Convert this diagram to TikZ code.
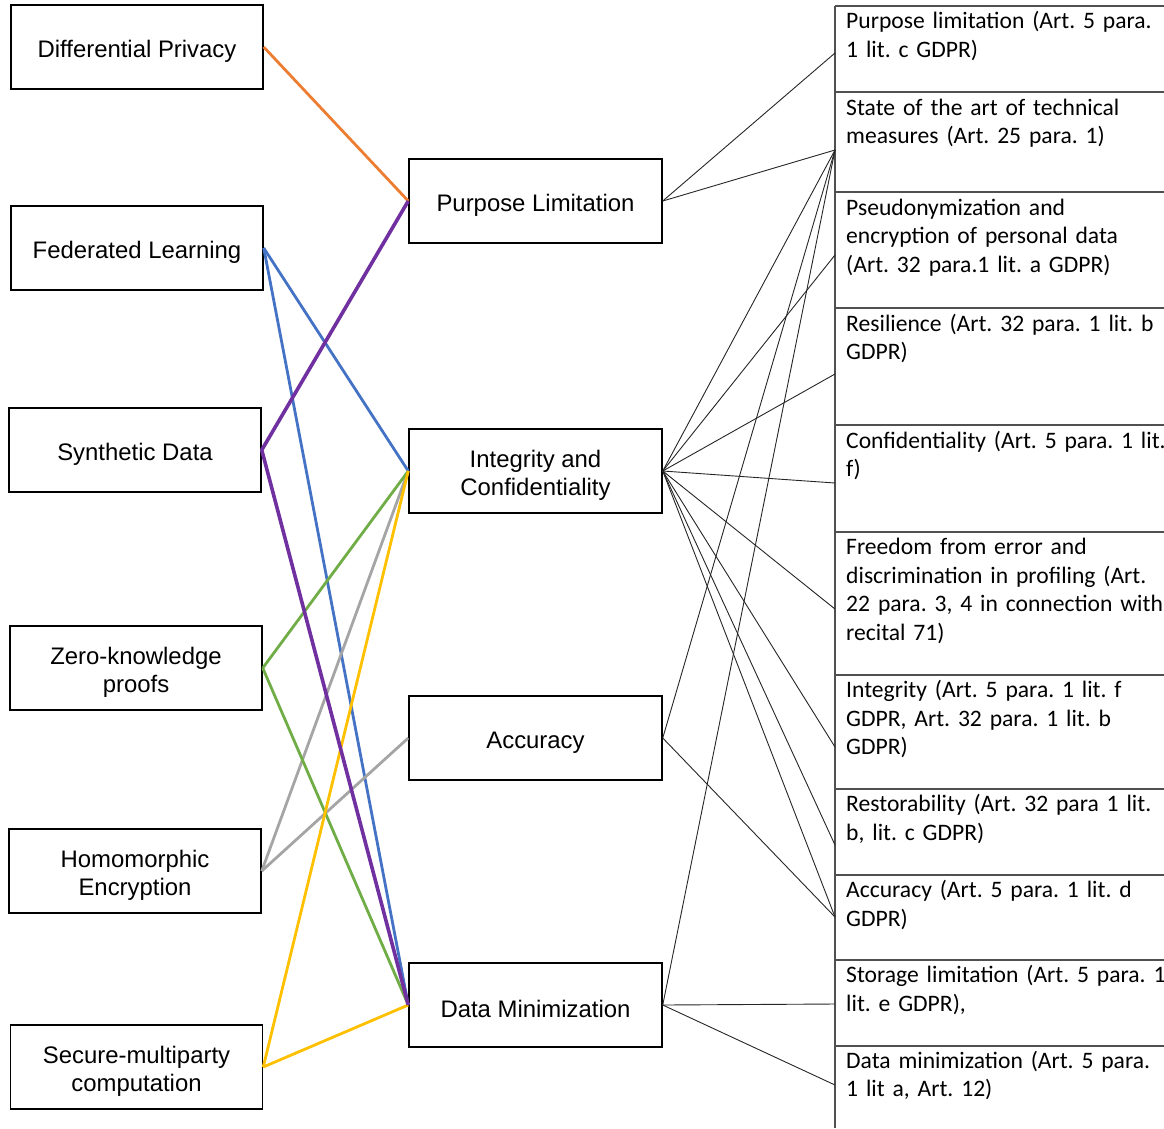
\documentclass[tikz,border=0pt]{standalone}
\usepackage{fontspec}
\setmainfont{Liberation Sans}
\newfontfamily\carlito{Carlito}
\definecolor{cOrange}{RGB}{237,125,49}
\definecolor{cPurple}{RGB}{112,48,160}
\definecolor{cBlue}{RGB}{68,114,196}
\definecolor{cGreen}{RGB}{112,173,71}
\definecolor{cGray}{RGB}{165,165,165}
\definecolor{cYellow}{RGB}{255,192,0}
\definecolor{tblGray}{RGB}{80,80,80}
\newcommand{\boxstrut}{\rule{0pt}{25.5pt}}
\newcommand{\cellfont}{\carlito\frenchspacing\fontsize{23.6}{28.7}\selectfont\fontdimen2\font=3.4pt\relax}
\begin{document}
\frenchspacing
\begin{tikzpicture}[x=1pt,y=-1pt,
  boxnode/.style={draw=black, line width=1.5pt, minimum width=252pt, minimum height=84pt,
    align=center, inner sep=0pt, font=\fontsize{23.9}{27.5}\selectfont},
  cellText/.style={anchor=base west, inner sep=0pt, text width=330pt, align=left,
    font=\cellfont},
  tableline/.style={draw=tblGray, line width=1.3pt},
  thinline/.style={draw=black!85, line width=0.9pt},
  colline/.style={line width=2.8pt}]
\useasboundingbox (0,0) rectangle (1164,1128);

% left boxes
\node[boxnode] (dp)  at (137,47)   {\boxstrut Differential Privacy};
\node[boxnode] (fl)  at (137,248)  {\boxstrut Federated Learning};
\node[boxnode] (sd)  at (135,450)  {\boxstrut Synthetic Data};
\node[boxnode] (zkp) at (136,668)  {\boxstrut Zero-knowledge\\proofs};
\node[boxnode] (he)  at (135,871)  {\boxstrut Homomorphic\\Encryption};
\node[boxnode] (smc) at (136.5,1067) {\boxstrut Secure-multiparty\\computation};

% middle boxes
\node[boxnode, minimum width=253pt] (pl)  at (535.5,201)  {\boxstrut Purpose Limitation};
\node[boxnode, minimum width=253pt] (ic)  at (535.5,471)  {\boxstrut Integrity and\\Confidentiality};
\node[boxnode, minimum width=253pt] (acc) at (535.5,738)  {\boxstrut Accuracy};
\node[boxnode, minimum width=253pt] (dm)  at (535.5,1005) {\boxstrut Data Minimization};

% right table lines
\draw[tableline] (835,6) -- (835,1128);
\foreach \yy in {6,92,192,308,425,532,675,789,875,960,1046}
  \draw[tableline] (835,\yy) -- (1164,\yy);

% right table texts
\node[cellText] (t1)  at (846,28.5)  {Purpose limitation (Art. 5 para.\\1 lit. c GDPR)};
\node[cellText] (t2)  at (846,115)   {State of the art of technical\\measures (Art. 25 para. 1)};
\node[cellText] (t3)  at (846,215)   {Pseudonymization and\\encryption of personal data\\(Art. 32 para.1 lit. a GDPR)};
\node[cellText] (t4)  at (846,331)   {Resilience (Art. 32 para. 1 lit. b\\GDPR)};
\node[cellText] (t5)  at (846,448)   {Confidentiality (Art. 5 para. 1 lit.\\f)};
\node[cellText] (t6)  at (846,554.5) {Freedom from error and\\discrimination in profiling (Art.\\22 para. 3, 4 in connection with\\recital 71)};
\node[cellText] (t7)  at (846,697.5) {Integrity (Art. 5 para. 1 lit. f\\GDPR, Art. 32 para. 1 lit. b\\GDPR)};
\node[cellText] (t8)  at (846,811.5) {Restorability (Art. 32 para 1 lit.\\b, lit. c GDPR)};
\node[cellText] (t9)  at (846,897.5) {Accuracy (Art. 5 para. 1 lit. d\\GDPR)};
\node[cellText] (t10) at (846,982.5) {Storage limitation (Art. 5 para. 1\\lit. e GDPR),};
\node[cellText] (t11) at (846,1068)  {Data minimization (Art. 5 para.\\1 lit a, Art. 12)};

% connector end points on the table
\coordinate (e1)  at (835,53);
\coordinate (e2)  at (835,150);
\coordinate (e3)  at (835,255);
\coordinate (e4)  at (835,374);
\coordinate (e5)  at (835,483);
\coordinate (e6)  at (835,609);
\coordinate (e7)  at (835,747);
\coordinate (e8)  at (835,845);
\coordinate (e9)  at (835,917);
\coordinate (e10) at (835,1004);
\coordinate (e11) at (835,1085);

% thin black connectors
\draw[thinline] (pl.east) -- (e1);
\draw[thinline] (pl.east) -- (e2);
\foreach \t in {e2,e3,e4,e5,e6,e7,e8,e9}
  \draw[thinline] (ic.east) -- (\t);
\draw[thinline] (acc.east) -- (e2);
\draw[thinline] (acc.east) -- (e9);
\draw[thinline] (dm.east) -- (e2);
\draw[thinline] (dm.east) -- (e10);
\draw[thinline] (dm.east) -- (e11);

% coloured connectors
\draw[colline, cOrange] (dp.east) -- (pl.west);
\draw[colline, cBlue] (fl.east) -- (ic.west);
\draw[colline, cBlue] (fl.east) -- (dm.west);
\draw[colline, cGray] (he.east) -- (ic.west);
\draw[colline, cGray] (he.east) -- (acc.west);
\draw[colline, cGreen] (zkp.east) -- (ic.west);
\draw[colline, cGreen] (zkp.east) -- (dm.west);
\draw[colline, cYellow] (smc.east) -- (ic.west);
\draw[colline, cYellow] (smc.east) -- (dm.west);
\draw[colline, cPurple, line width=3.6pt, line join=round] (pl.west) -- (sd.east) -- (dm.west);
\end{tikzpicture}
\end{document}
